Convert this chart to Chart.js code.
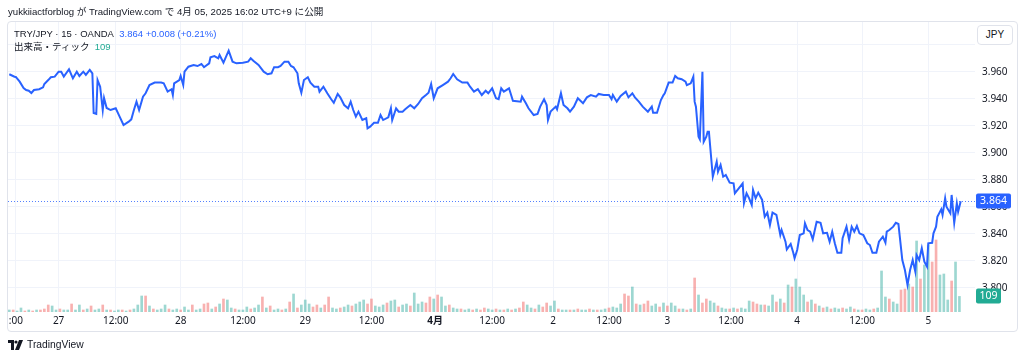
<!DOCTYPE html>
<html><head><meta charset="utf-8">
<script src="https://cdn.jsdelivr.net/npm/chart.js@4/dist/chart.umd.min.js"></script>
<style>
html,body{margin:0;padding:0;background:#fff;width:1024px;height:360px;overflow:hidden;font-family:"Liberation Sans","Noto Sans CJK JP",sans-serif;color:#131722}
#title{position:absolute;left:8px;top:5px;font-size:9.6px;line-height:14px;white-space:nowrap}
#frame{position:absolute;left:7px;top:21px;width:1011px;height:311px;border:1px solid #e0e3eb;border-radius:4px;box-sizing:border-box}
#c{position:absolute;left:0;top:0}
.leg{position:absolute;left:14px;font-size:9.5px;line-height:13px;white-space:nowrap}
#leg1{top:27px}
#leg2{top:40px}
.blue{color:#2962ff}
.teal{color:#22ab94}
#jpy{position:absolute;left:977px;top:25px;width:36px;height:20px;border:1px solid #e0e3eb;border-radius:4px;box-sizing:border-box;font-size:10px;line-height:18px;text-align:center;background:#fff}
#logo{position:absolute;left:8px;top:338px;font-size:10.3px;line-height:14px;display:flex;align-items:center;gap:4px;white-space:nowrap}
</style></head>
<body>
<div id="frame"></div>
<canvas id="c" width="1024" height="360"></canvas>
<div id="title">yukkiiactforblog が TradingView.com で 4月 05, 2025 16:02 UTC+9 に公開</div>
<div class="leg" id="leg1">TRY/JPY · 15 · OANDA&nbsp;&nbsp;<span class="blue" id="lastTxt"></span></div>
<div class="leg" id="leg2">出来高・ティック&nbsp;&nbsp;<span class="teal" id="volTxt"></span></div>
<div id="jpy">JPY</div>
<div id="logo"><svg width="15" height="10" viewBox="0 0 15 10"><path d="M0 0h6v10H3V3H0z" fill="#131722"/><circle cx="8" cy="2" r="1.6" fill="#131722"/><path d="M11 0h4l-4 10H7z" fill="#131722"/></svg><span>TradingView</span></div>
<script>
// price series: bar index (15-minute bars) and close price
const priceBar = [0,4,5,8,11,13,15,17,19,23,26,27,30,32,35,38,40,42,46,49,52,54,57,59,62,64,65,67,68,70,72,73,75,78,82,85,88,92,94,96,98,100,103,105,108,112,117,119,122,125,126,127,131,132,134,135,138,142,145,148,150,154,155,158,161,162,165,169,172,175,180,184,186,
188,192,196,199,202,204,207,209,212,215,217,219,222,223,225,227,230,232,235,238,239,242,245,248,250,253,255,258,261,263,265,267,269,272,275,276,278,281,284,286,288,292,294,295,298,300,303,305,309,312,315,318,321,323,325,327,330,334,338,340,342,345,349,353,355,358,361,364,367,369,
372,375,377,379,381,385,388,394,395,398,400,404,407,409,412,414,415,417,421,422,425,427,430,432,435,438,442,445,448,452,454,458,462,464,465,468,471,475,477,480,482,485,488,492,
495,496,499,502,504,505,508,511,513,515,518,521,522,525,527,528,529,531,532,534,535,537,538,539,542,543,545,546,548,550,552,555,558,559,562,565,566,568,570,572,573,575,577,580,582,584,586,588,591,594,595,598,599,602,604,605,607,609,612,613,615,617,619,622,625,627,630,632,634,636,638,641,642,645,647,649,651,653,655,658,661,663,665,668,670,673,675,676,678,681,683,685,688,690,692,694,696,698,699,701,703,705,707,708,711,712,714,715,718,719,721,722,725,726,728,730,731,733];
const price = [3.9581,3.9563,3.9561,3.9526,3.9479,3.9464,3.9459,3.9442,3.9464,3.9470,3.9484,3.9509,3.9538,3.9559,3.9563,3.9600,3.9600,3.9563,3.9618,3.9551,3.9600,3.9568,3.9600,3.9576,3.9613,3.9588,3.9294,3.9287,3.9538,3.9489,3.9316,3.9405,3.9331,3.9316,3.9329,3.9267,3.9205,3.9230,3.9247,3.9316,3.9378,3.9316,3.9415,3.9440,3.9501,3.9519,3.9519,3.9514,3.9452,3.9470,3.9427,3.9514,3.9538,3.9568,3.9501,3.9600,3.9637,3.9650,3.9642,3.9657,3.9633,3.9662,3.9707,3.9716,3.9699,3.9724,3.9667,3.9756,3.9674,3.9662,3.9667,3.9674,3.9699,
3.9681,3.9650,3.9600,3.9581,3.9588,3.9633,3.9633,3.9642,3.9674,3.9674,3.9642,3.9633,3.9588,3.9514,3.9444,3.9538,3.9559,3.9519,3.9489,3.9489,3.9452,3.9489,3.9440,3.9396,3.9370,3.9435,3.9410,3.9353,3.9329,3.9378,3.9316,3.9267,3.9304,3.9242,3.9255,3.9181,3.9193,3.9222,3.9222,3.9279,3.9242,3.9262,3.9329,3.9242,3.9329,3.9304,3.9304,3.9321,3.9353,3.9329,3.9361,3.9403,3.9427,3.9444,3.9509,3.9403,3.9477,3.9501,3.9526,3.9551,3.9583,3.9544,3.9519,3.9519,3.9489,3.9452,3.9470,3.9427,3.9459,3.9440,
3.9477,3.9403,3.9396,3.9477,3.9452,3.9477,3.9385,3.9378,3.9415,3.9366,3.9329,3.9279,3.9287,3.9341,3.9396,3.9353,3.9242,3.9304,3.9341,3.9321,3.9440,3.9353,3.9329,3.9304,3.9341,3.9403,3.9366,3.9410,3.9427,3.9415,3.9435,3.9427,3.9427,3.9396,3.9427,3.9378,3.9420,3.9452,3.9410,3.9440,3.9410,3.9378,3.9341,3.9304,
3.9341,3.9296,3.9296,3.9390,3.9427,3.9440,3.9519,3.9519,3.9568,3.9551,3.9544,3.9526,3.9501,3.9514,3.9563,3.9378,3.9341,3.9118,3.9099,3.9600,3.9081,3.9118,3.9156,3.9156,3.8822,3.8859,3.8933,3.8859,3.8909,3.8822,3.8835,3.8778,3.8773,3.8699,3.8736,3.8773,3.8625,3.8699,3.8662,3.8613,3.8724,3.8662,3.8704,3.8650,3.8526,3.8556,3.8464,3.8556,3.8539,3.8390,3.8427,3.8341,3.8284,3.8324,3.8259,3.8218,3.8279,3.8390,3.8403,3.8477,3.8427,3.8415,3.8359,3.8489,3.8481,3.8403,3.8407,3.8341,3.8415,3.8329,3.8259,3.8259,3.8366,3.8452,3.8353,3.8452,3.8415,3.8457,3.8403,3.8390,3.8329,3.8316,3.8259,3.8259,3.8341,3.8378,3.8333,3.8415,3.8427,3.8452,3.8481,3.8472,3.8205,3.8131,3.8020,3.8131,3.8205,3.8119,3.8242,3.8205,3.8292,3.8193,3.8156,3.8329,3.8333,3.8403,3.8452,3.8526,3.8581,3.8539,3.8662,3.8600,3.8551,3.8687,3.8481,3.8625,3.8563,3.8640];

// tick volume, one value every VOL_STEP bars; 1 = up bar, 0 = down bar
const VOL_STEP = 3;
const volume = [14,14,7,28,7,14,7,14,14,21,49,42,14,21,14,14,56,14,49,14,21,42,14,21,49,14,14,7,14,14,7,14,21,49,112,112,42,21,14,21,49,21,14,21,14,35,14,49,14,21,56,63,21,35,56,91,84,28,21,14,14,35,21,28,49,105,28,42,14,21,14,21,70,126,28,49,84,56,35,49,28,49,105,28,21,28,35,49,42,56,70,84,56,91,42,35,49,63,77,84,35,49,56,42,133,56,70,63,105,91,119,105,42,49,28,21,21,14,21,14,21,14,28,21,14,21,14,14,21,14,21,28,70,49,28,21,49,35,63,42,77,21,14,14,14,14,21,14,14,21,14,14,14,21,28,35,28,56,126,112,175,56,49,56,77,42,56,35,63,42,63,42,21,21,14,21,238,119,63,91,77,63,42,28,21,21,28,21,28,21,77,70,56,49,49,42,119,70,91,63,189,175,231,175,119,70,84,56,42,28,35,21,28,21,28,21,35,21,14,14,21,14,21,28,287,105,91,70,56,154,161,196,175,497,231,329,469,350,504,259,266,84,217,350,109];
const volUp = [1,0,1,1,0,1,0,1,0,0,0,1,1,0,1,1,0,1,1,0,1,0,1,1,0,1,0,1,1,0,1,0,1,1,1,0,1,0,1,1,1,0,1,1,0,1,1,0,1,1,0,0,1,0,1,0,1,1,0,1,1,1,0,1,1,0,1,0,1,1,0,1,0,1,0,1,1,1,0,0,1,0,0,1,1,0,1,1,0,1,1,1,0,0,1,1,1,0,1,1,0,1,1,0,1,1,1,0,0,1,0,1,1,0,1,1,0,1,1,0,1,0,0,1,1,0,1,0,1,0,1,0,0,1,1,0,1,0,0,1,1,0,1,1,0,1,0,1,1,0,1,0,1,1,0,1,1,1,0,0,1,0,1,0,0,1,1,0,1,0,1,1,0,1,0,1,0,1,0,0,1,1,0,1,1,0,1,0,1,1,1,0,0,1,0,1,1,0,1,0,1,0,1,1,1,0,1,0,1,0,1,0,1,1,0,1,1,0,1,0,1,1,0,1,1,1,0,1,1,0,0,1,0,1,0,1,1,0,0,1,1,1,0,1,1];

// axis ticks
const xTickBars = [5,38,82,132,180,228,279,328,372,419,462,507,556,607,657,708];
const xTickLabels = [':00','27','12:00','28','12:00','29','12:00','4月','12:00','2','12:00','3','12:00','4','12:00','5'];
const yTicks = [3.80,3.82,3.84,3.86,3.88,3.90,3.92,3.94,3.96,3.98];
const yLabelHidden = [3.98];
const prevClose = 3.856;

const lastPrice = price[price.length-1];
const lastVol = volume[volume.length-1];
const chg = lastPrice - prevClose;
document.getElementById('lastTxt').textContent = lastPrice.toFixed(3) + ' +' + chg.toFixed(3) + ' (+' + (chg/prevClose*100).toFixed(2) + '%)';
document.getElementById('volTxt').textContent = String(lastVol);

const FONT = '"Noto Sans","Noto Sans CJK JP",sans-serif';
const BLUE = '#2962ff';

const markers = {
  id:'markers',
  beforeDatasetsDraw(chart){
    const {ctx, chartArea:a, scales:{y}} = chart;
    const py = Math.round(y.getPixelForValue(lastPrice)) + 0.5;
    ctx.save();
    ctx.strokeStyle = 'rgba(41,98,255,0.8)'; ctx.lineWidth = 1; ctx.setLineDash([1,2]);
    ctx.beginPath(); ctx.moveTo(a.left, py); ctx.lineTo(a.right, py); ctx.stroke();
    ctx.restore();
  },
  afterDraw(chart){
    const {ctx, chartArea:a, scales:{y, vol}} = chart;
    const box = (val, cy, w, col) => {
      ctx.fillStyle = col;
      ctx.beginPath();
      ctx.roundRect(a.right + 1, Math.round(cy) - 7.5, w, 15, 2);
      ctx.fill();
      ctx.fillStyle = '#fff';
      ctx.font = '10.5px ' + FONT;
      ctx.textAlign = 'center'; ctx.textBaseline = 'middle';
      ctx.fillText(val, a.right + 1 + w/2, Math.round(cy) + 0.5);
    };
    ctx.save();
    box(lastPrice.toFixed(3), y.getPixelForValue(lastPrice), 35, BLUE);
    box(String(lastVol), vol.getPixelForValue(lastVol), 25, '#22ab94');
    ctx.restore();
  }
};

new Chart(document.getElementById('c'), {
  type: 'line',
  data: {
    datasets: [
      {
        type: 'line',
        data: priceBar.map((b, i) => ({x: b, y: price[i]})),
        yAxisID: 'y',
        borderColor: BLUE,
        borderWidth: 2,
        pointRadius: 0,
        tension: 0,
        order: 1
      },
      {
        type: 'bar',
        data: volume.map((v, i) => ({x: i * VOL_STEP, y: v})),
        yAxisID: 'vol',
        backgroundColor: volUp.map(u => u ? 'rgba(38,166,154,0.45)' : 'rgba(239,83,80,0.45)'),
        barThickness: 2,
        order: 2
      }
    ]
  },
  options: {
    responsive: false,
    animation: false,
    events: [],
    layout: {padding: {left: 8, top: 22, right: 7, bottom: 29}},
    plugins: {legend: {display: false}, tooltip: {enabled: false}},
    scales: {
      x: {
        type: 'linear', min: -1, max: 744, offset: false,
        grid: {color: '#f0f3fa', drawTicks: false, offset: false},
        border: {display: false},
        afterBuildTicks: s => { s.ticks = xTickBars.map(v => ({value: v})); },
        afterFit: s => { s.height = 19; },
        ticks: {
          autoSkip: false, maxRotation: 0, padding: 3, color: '#131722',
          font: ctx => ({family: FONT, size: 10, weight: xTickLabels[xTickBars.indexOf(ctx.tick && ctx.tick.value)] === '4月' ? 'bold' : 'normal'}),
          callback: v => { const i = xTickBars.indexOf(v); return i >= 0 ? xTickLabels[i] : ''; }
        }
      },
      y: {
        position: 'right', min: 3.782, max: 3.9968,
        grid: {color: '#f0f3fa', drawTicks: false},
        border: {display: false},
        afterBuildTicks: s => { s.ticks = yTicks.map(v => ({value: v})); },
        afterFit: s => { s.width = 42; },
        ticks: {
          padding: 7, color: '#131722', font: {family: FONT, size: 10},
          callback: v => yLabelHidden.some(h => Math.abs(h - v) < 1e-6) ? '' : v.toFixed(3)
        }
      },
      vol: {display: false, min: 0, max: 2030}
    }
  },
  plugins: [markers]
});
</script>
</body></html>
